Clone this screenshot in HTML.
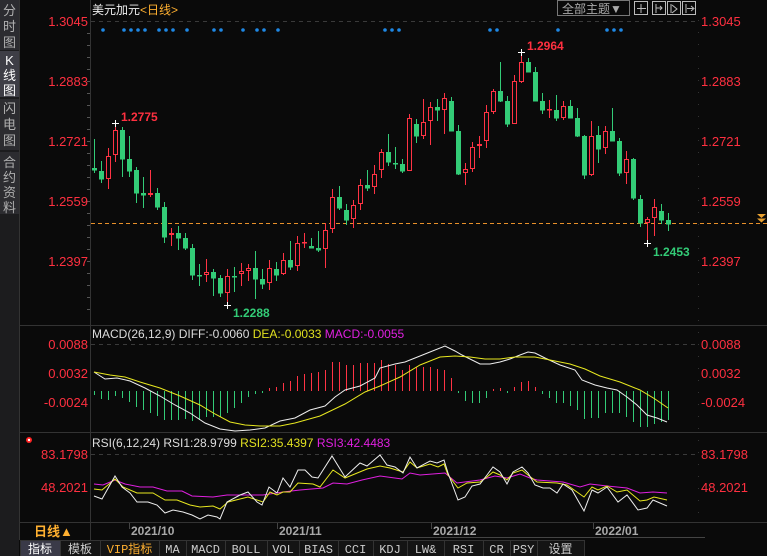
<!DOCTYPE html>
<html><head><meta charset="utf-8">
<style>
html,body{margin:0;padding:0;background:#0a0a0a;width:767px;height:556px;overflow:hidden;font-family:"Liberation Sans","Noto Sans CJK SC",sans-serif;}
svg{position:absolute;left:0;top:0}
</style></head><body>
<svg id="s" width="767" height="556" xmlns="http://www.w3.org/2000/svg" font-family="Liberation Sans, Noto Sans CJK SC, sans-serif">
<rect width="767" height="556" fill="#0a0a0a"/>
<!-- sidebar -->
<rect x="0" y="0" width="19" height="556" fill="#1c1c1e"/>
<rect x="0" y="0" width="19" height="50" fill="#2c2c30"/>
<rect x="0" y="51" width="19" height="46" fill="#3e3e46"/>
<rect x="0" y="99" width="19" height="51" fill="#2c2c30"/>
<rect x="0" y="152" width="19" height="62" fill="#2c2c30"/>
<g fill="#b0b0b0" font-size="13" text-anchor="middle">
<text x="9.5" y="15">分</text><text x="9.5" y="31">时</text><text x="9.5" y="47">图</text>
<text x="9.5" y="65" fill="#fff">K</text><text x="9.5" y="80" fill="#fff">线</text><text x="9.5" y="95" fill="#fff">图</text>
<text x="9.5" y="113">闪</text><text x="9.5" y="129">电</text><text x="9.5" y="145">图</text>
<text x="9.5" y="167">合</text><text x="9.5" y="182">约</text><text x="9.5" y="197">资</text><text x="9.5" y="212">料</text>
</g>
<!-- separators -->
<g stroke="#333" stroke-width="1">
<line x1="19" y1="325.5" x2="767" y2="325.5"/>
<line x1="19" y1="432.5" x2="767" y2="432.5"/>
<line x1="19" y1="522.5" x2="767" y2="522.5"/>
<line x1="19.5" y1="0" x2="19.5" y2="556"/>
<line x1="90.5" y1="0" x2="90.5" y2="540"/>
<line x1="698.5" y1="20" x2="698.5" y2="522" stroke-dasharray="1,11"/>
</g>
<!-- dashed top grid -->
<g stroke="#3a3a3a" stroke-dasharray="4,4">
<line x1="91" y1="21.5" x2="697" y2="21.5"/>
<line x1="91" y1="344.5" x2="697" y2="344.5"/>
<line x1="91" y1="454.5" x2="697" y2="454.5"/>
</g>
<!-- left axis ticks -->
<g id="ticks" stroke="#555"></g>
<!-- header -->
<text x="92" y="14" font-size="12" fill="#eee">美元加元<tspan fill="#ffb030">&lt;日线&gt;</tspan></text>
<rect x="557.5" y="0.5" width="72" height="15" fill="none" stroke="#777"/>
<text x="562" y="13" font-size="12" fill="#aaa">全部主题▼</text>
<g fill="none" stroke="#bbb">
<rect x="634.5" y="1.5" width="13" height="13"/><rect x="652.5" y="1.5" width="13" height="13"/>
<rect x="667.5" y="1.5" width="13" height="13"/><rect x="682.5" y="1.5" width="13" height="13"/>
<path d="M641 4v9M637 8.5h9M656 4v9M656 8h6M660 6l2 2-2 2M671 4v9M672 5l5 4-5 4M686 4v9M687 8.5h6M691 6l3 2.5-3 2.5"/>
</g>
<!-- price labels -->
<g font-size="13" fill="#ff3040">
<text x="88" y="26" text-anchor="end">1.3045</text>
<text x="88" y="86" text-anchor="end">1.2883</text>
<text x="88" y="146" text-anchor="end">1.2721</text>
<text x="88" y="206" text-anchor="end">1.2559</text>
<text x="88" y="266" text-anchor="end">1.2397</text>
<text x="701" y="26">1.3045</text>
<text x="701" y="86">1.2883</text>
<text x="701" y="146">1.2721</text>
<text x="701" y="206">1.2559</text>
<text x="701" y="266">1.2397</text>
<text x="88" y="349" text-anchor="end">0.0088</text>
<text x="88" y="378" text-anchor="end">0.0032</text>
<text x="88" y="407" text-anchor="end">-0.0024</text>
<text x="701" y="349">0.0088</text>
<text x="701" y="378">0.0032</text>
<text x="701" y="407">-0.0024</text>
<text x="88" y="459" text-anchor="end">83.1798</text>
<text x="88" y="492" text-anchor="end">48.2021</text>
<text x="701" y="459">83.1798</text>
<text x="701" y="492">48.2021</text>
</g>
<!-- orange dashed line -->
<line x1="91" y1="223.5" x2="767" y2="223.5" stroke="#e8902a" stroke-dasharray="4,3"/>
<path d="M757 214h9l-4.5 4zM757 218.5h9l-4.5 4z" fill="#e8a030"/>
<g id="dots" fill="#1e88e5"></g>
<g id="candles"></g>
<!-- extreme labels -->
<g font-size="12" font-weight="bold">
<text x="121" y="121" fill="#ff3040">1.2775</text>
<text x="233" y="317" fill="#33cc77">1.2288</text>
<text x="527" y="50" fill="#ff3040">1.2964</text>
<text x="653" y="256" fill="#33cc77">1.2453</text>
</g>
<g stroke="#fff" stroke-width="1">
<path d="M112 123.5h7M115.5 120v7M224 305.5h7M227.5 302v7M518 52.5h7M521.5 49v7M644 243.5h7M647.5 240v7"/>
</g>
<!-- MACD -->
<text x="92" y="338" font-size="12" fill="#ddd">MACD(26,12,9) DIFF:-0.0060 <tspan fill="#e0e020">DEA:-0.0033</tspan> <tspan fill="#e020e0">MACD:-0.0055</tspan></text>
<g id="hist"></g>
<polyline fill="none" stroke="#eee" stroke-width="1" points="94,372 105,379 117,378 130,381 145,388 160,396 175,405 190,413 205,423 220,429 235,431 250,430 265,428 280,421 295,418 310,410 325,406 335,397 345,390 360,386 375,378 380,368 395,364 405,362 415,358 430,352 445,346 455,351 462,355 470,359 480,364 490,364 500,362 510,359 520,355 528,352 535,353 545,358 560,365 575,370 582,380 595,385 607,388 617,390 627,397 637,405 647,415 657,418 667,422"/>
<polyline fill="none" stroke="#e8e820" stroke-width="1" points="94,372 110,375 125,377 140,382 160,388 180,396 200,405 215,414 230,422 245,425 260,426 280,426 295,423 320,416 345,404 365,392 380,386 400,377 420,365 440,357 455,356 470,357 485,359 500,359 515,357 535,357 550,360 570,364 585,369 600,376 620,382 640,390 655,399 668,408"/>
<!-- RSI -->
<circle cx="29" cy="440" r="3" fill="#f22"/><circle cx="29" cy="440" r="1.2" fill="#fff"/>
<text x="92" y="447" font-size="12" fill="#ddd">RSI(6,12,24) RSI1:28.9799 <tspan fill="#e0e020">RSI2:35.4397</tspan> <tspan fill="#e020e0">RSI3:42.4483</tspan></text>
<polyline fill="none" stroke="#e020e0" points="94,484 103,485 115,480 125,484 140,487 153,487 167,491 182,491 192,496 213,497 227,495 247,495 263,495 283,492 300,490 323,488 333,483 347,484 362,480 380,476 402,479 410,473 420,475 445,473 457,483 480,480 495,476 507,478 520,474 530,478 537,480 563,482 580,487 590,484 607,486 627,488 640,493 653,492 667,493"/>
<polyline fill="none" stroke="#e8e820" points="94,489 102,490 115,479 123,487 137,493 153,493 165,500 177,500 190,505 200,507 213,506 220,509 228,502 248,497 263,502 270,492 277,495 283,492 290,492 298,483 313,484 320,487 333,470 345,478 367,469 380,466 390,468 403,472 410,462 417,468 430,464 438,467 444,464 448,475 458,488 467,483 480,482 487,477 493,472 500,475 507,480 513,473 522,470 528,475 537,482 557,483 567,485 584,497 592,487 598,490 607,486 617,492 627,490 640,501 647,500 654,497 667,500"/>
<polyline fill="none" stroke="#eee" points="94,496 102,499 115,476 122,487 130,493 137,502 148,502 157,505 165,513 173,510 183,512 192,515 200,519 208,515 217,517 220,519 227,502 240,495 248,492 257,502 262,505 269,487 277,493 283,478 290,487 298,470 305,470 312,477 318,478 332,456 345,477 360,463 367,466 380,455 387,465 395,467 403,473 410,457 417,468 430,461 437,463 444,460 448,473 458,500 465,497 472,486 480,484 487,475 493,467 500,472 507,484 513,472 522,467 528,473 535,485 543,488 550,488 557,493 563,484 572,490 584,511 592,490 598,493 607,487 618,502 627,495 638,510 647,508 653,500 660,503 667,506"/>
<!-- date axis -->
<text x="34" y="536" font-size="13" font-weight="bold" fill="#ffb030">日线▲</text>
<g stroke="#444"><line x1="129.5" y1="523" x2="129.5" y2="529"/><line x1="277.5" y1="523" x2="277.5" y2="529"/><line x1="431.5" y1="523" x2="431.5" y2="529"/><line x1="593.5" y1="523" x2="593.5" y2="529"/><line x1="400" y1="537.5" x2="705" y2="537.5"/></g>
<g font-size="12" font-weight="bold" fill="#a8a8a8">
<text x="131" y="535">2021/10</text><text x="279" y="535">2021/11</text><text x="433" y="535">2021/12</text><text x="595" y="535">2022/01</text>
</g>
<!-- toolbar -->
<rect x="19" y="540" width="748" height="16" fill="#0a0a0a"/>
<g id="tb"></g>
</svg>
<script>
var NS="http://www.w3.org/2000/svg";
function el(p,t,a,txt){var e=document.createElementNS(NS,t);for(var k in a)e.setAttribute(k,a[k]);if(txt!==undefined)e.textContent=txt;document.getElementById(p).appendChild(e);return e;}
var C=[[168,170,139,173,0],[171,179,161,183,0],[156,179,148,189,1],[130,155,123,162,1],[130,159,127,177,0],[159,171,136,177,0],[170,193,167,203,0],[193,195,177,208,0],[193,195,170,197,1],[193,207,188,210,0],[207,237,202,243,0],[233,235,228,246,1],[233,238,226,250,0],[238,248,233,250,0],[248,275,244,280,0],[275,276,264,286,0],[272,275,259,282,1],[272,278,269,296,0],[278,293,275,297,0],[276,293,269,304,1],[276,277,267,292,0],[271,274,263,286,1],[268,271,264,281,1],[268,279,251,299,0],[279,284,269,289,0],[268,283,260,290,1],[269,275,262,281,0],[260,274,253,275,1],[260,267,241,270,0],[243,266,236,271,1],[242,243,233,248,1],[246,248,238,248,0],[248,250,231,252,0],[230,249,223,268,1],[197,229,189,233,1],[197,208,186,210,0],[210,220,204,225,0],[205,219,200,228,1],[185,204,179,210,1],[185,188,170,191,0],[174,187,165,194,1],[152,170,149,178,1],[152,162,134,166,0],[163,164,147,169,0],[164,171,159,173,0],[118,171,114,171,1],[124,136,119,143,0],[122,136,99,139,1],[107,121,102,145,1],[107,110,99,121,0],[98,110,93,134,1],[101,131,97,131,0],[131,174,125,175,0],[169,173,163,185,1],[147,169,142,172,1],[144,146,136,158,1],[112,141,105,148,1],[91,112,89,114,1],[91,101,62,102,0],[101,124,96,127,0],[81,124,75,124,1],[62,82,52,83,1],[62,72,58,72,0],[72,101,67,101,0],[101,110,93,114,0],[109,110,100,118,1],[110,118,95,121,0],[106,118,101,120,1],[106,118,100,118,0],[118,136,108,137,0],[136,175,135,179,0],[136,175,121,176,1],[135,149,126,163,0],[131,148,126,154,1],[131,141,108,141,0],[141,173,138,176,0],[159,173,151,184,1],[159,198,158,200,0],[199,223,195,227,0],[219,223,217,243,1],[207,218,199,236,1],[211,220,204,224,0],[220,224,213,231,0]];
var G="#33cc77",R="#ff3344";
C.forEach(function(c,i){var x=94+7*i,col=c[4]?R:G;
 el("candles","line",{x1:x+.5,y1:c[2],x2:x+.5,y2:c[0],stroke:col});
 el("candles","line",{x1:x+.5,y1:c[1],x2:x+.5,y2:c[3],stroke:col});
 var h=Math.max(c[1]-c[0],1);
 if(c[4])el("candles","rect",{x:x-1.5,y:c[0]+.5,width:4,height:Math.max(h-1,0.5),fill:"#0a0a0a",stroke:R});
 else el("candles","rect",{x:x-2,y:c[0],width:5,height:h+0.5,fill:G});
});
var H=[395,399,400,396,398,402,407,410,413,416,420,420,420,419,421,420,417,417,417,413,408,403,397,394,393,388,387,383,381,376,374,373,372,370,362,362,365,365,363,363,363,360,364,365,370,365,367,367,367,369,370,378,393,401,403,403,398,389,388,393,387,382,381,387,394,398,403,403,406,410,419,418,418,413,413,413,417,422,427,427,424,422,420];
H.forEach(function(y,i){var x=94+7*i+.5;el("hist","line",{x1:x,y1:391,x2:x,y2:y,stroke:y<391?R:G});});
[103,124,131,138,145,159,166,173,187,214,221,243,257,264,278,385,392,399,490,497,558,607,614,621].forEach(function(x){el("dots","circle",{cx:x,cy:30,r:1.8});});
for(var y=33;y<320;y+=12)el("ticks","line",{x1:87,y1:y+.5,x2:90,y2:y+.5});
var T=[["指标",20,60,"#fff","#3a3a48"],["模板",60,100,"#ccc"],["VIP指标",100,159,"#ffb030"],["MA",159,186,"#ccc"],["MACD",186,225,"#ccc"],["BOLL",225,267,"#ccc"],["VOL",267,299,"#ccc"],["BIAS",299,338,"#ccc"],["CCI",338,373,"#ccc"],["KDJ",373,407,"#ccc"],["LW&",407,444,"#ccc"],["RSI",444,483,"#ccc"],["CR",483,510,"#ccc"],["PSY",510,537,"#ccc"],["设置",537,584,"#ccc"]];
T.forEach(function(t){el("tb","rect",{x:t[1]+.5,y:540.5,width:t[2]-t[1],height:16,fill:t[4]||"#141414",stroke:"#333"});
 el("tb","text",{x:(t[1]+t[2])/2,y:553,"font-size":12,"text-anchor":"middle",fill:t[3],"font-family":"Liberation Mono, Noto Sans CJK SC, monospace"},t[0]);});
</script>
</body></html>
